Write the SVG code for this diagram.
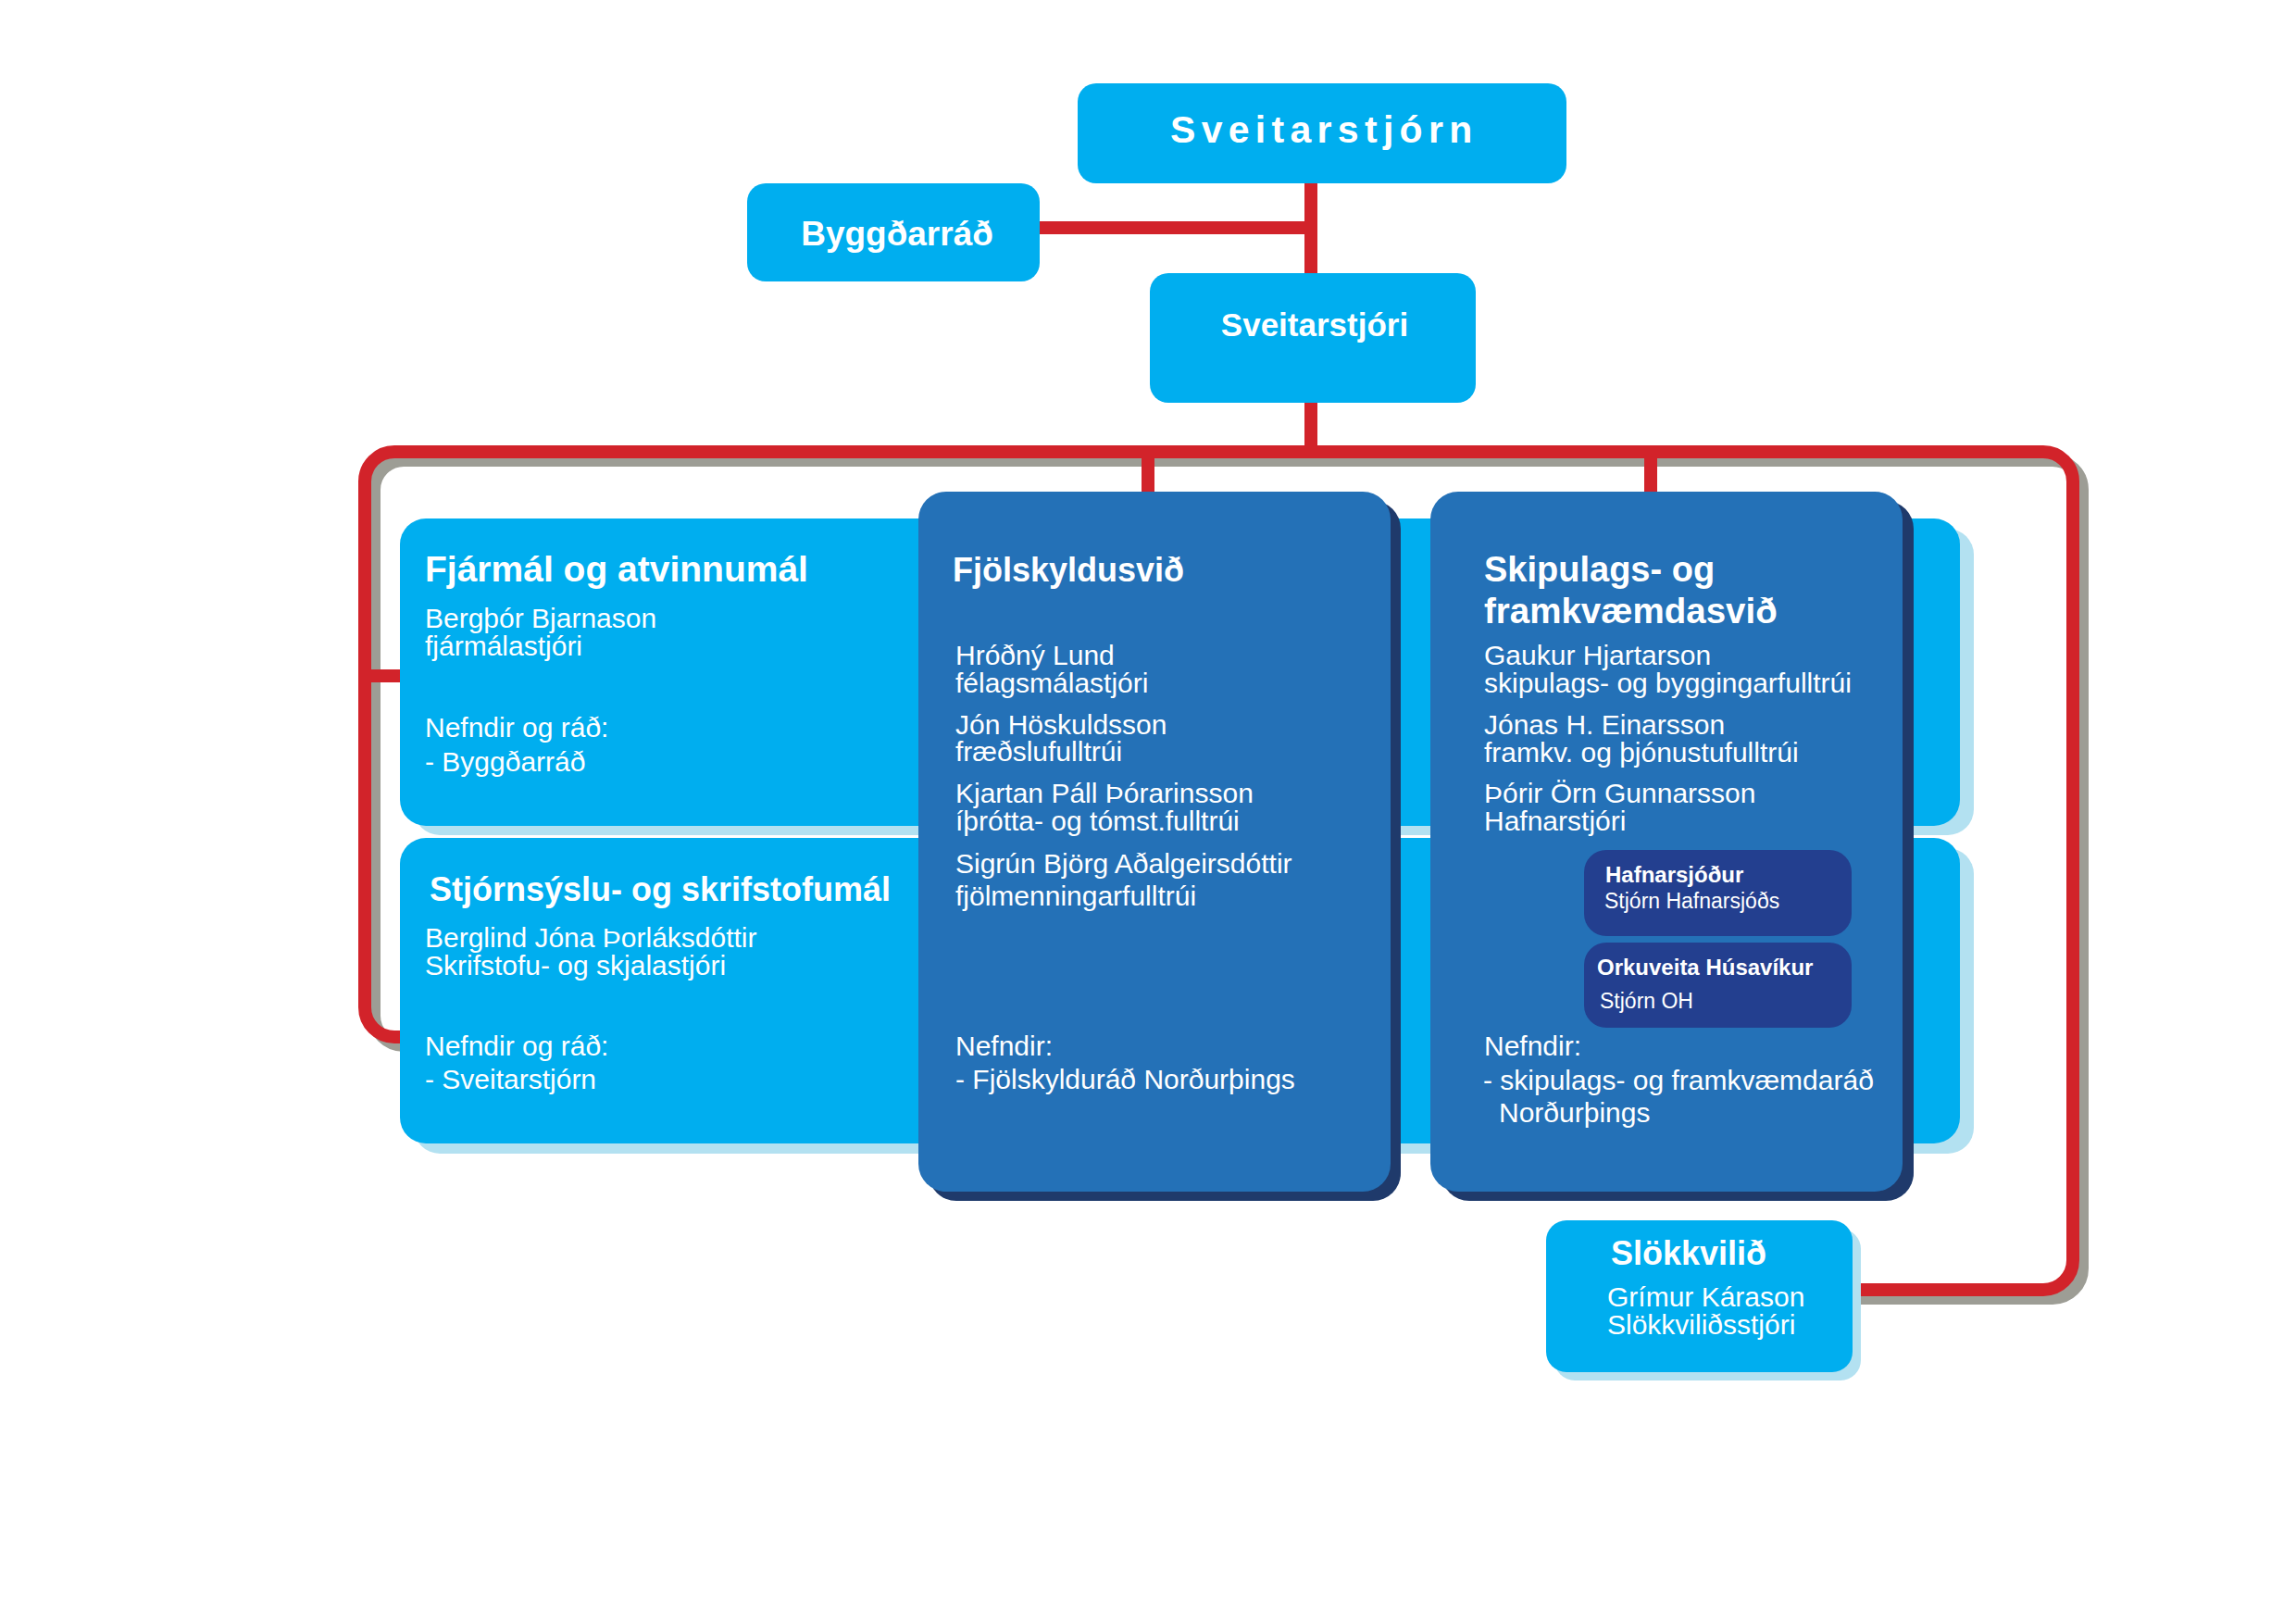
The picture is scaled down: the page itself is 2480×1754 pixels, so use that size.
<svg xmlns="http://www.w3.org/2000/svg" width="2480" height="1754" viewBox="0 0 2480 1754">
<style>
.red{fill:none;stroke:#D2232A;stroke-width:14}
.gray{fill:none;stroke:#9D9D95;stroke-width:14}
.lb{fill:#00AEEF}
.lbs{fill:#B3E1F1}
.db{fill:#2471B7}
.dbs{fill:#1F3A6B}
.sb{fill:#233F8F}
text{font-family:"Liberation Sans",Arial,sans-serif;fill:#fff}
.t{font-weight:bold;font-size:37px}
.r{font-size:30px}
.sbt{font-weight:bold;font-size:24px}
.sbr{font-size:23px}
</style>
<rect width="2480" height="1754" fill="#fff"/>
<g id="connectors">
<path class="gray" transform="translate(10,9)" d="M440 1120 H426 A32 32 0 0 1 394 1088 V520 A32 32 0 0 1 426 488 H2207 A32 32 0 0 1 2239 520 V1361 A32 32 0 0 1 2207 1393 H1995"/>
<path class="red" d="M440 1120 H426 A32 32 0 0 1 394 1088 V520 A32 32 0 0 1 426 488 H2207 A32 32 0 0 1 2239 520 V1361 A32 32 0 0 1 2207 1393 H1995"/>
<path class="red" d="M1416 196 V297 M1120 246 H1423 M1416 433 V488 M1240 488 V535 M1783 488 V535 M394 730 H440"/>
</g>
<g id="sveitarstjorn">
<rect class="lb" x="1164" y="90" width="528" height="108" rx="20"/>
<text x="1264" y="154" font-weight="bold" font-size="41" letter-spacing="6.3">Sveitarstjórn</text>
</g>
<g id="byggdarrad">
<rect class="lb" x="807" y="198" width="316" height="106" rx="20"/>
<text x="969" y="265" font-weight="bold" font-size="37" text-anchor="middle">Byggðarráð</text>
</g>
<g id="sveitarstjori">
<rect class="lb" x="1242" y="295" width="352" height="140" rx="20"/>
<text x="1420" y="363" font-weight="bold" font-size="35" text-anchor="middle">Sveitarstjóri</text>
</g>
<g id="fjarmal">
<rect class="lbs" x="447" y="571" width="1685" height="331" rx="28"/>
<rect class="lb" x="432" y="560" width="1685" height="332" rx="28"/>
<text class="t" x="459" y="628" style="font-size:39px">Fjármál og atvinnumál</text>
<text class="r" x="459" y="678">Bergþór Bjarnason</text>
<text class="r" x="459" y="708">fjármálastjóri</text>
<text class="r" x="459" y="796">Nefndir og ráð:</text>
<text class="r" x="459" y="833">- Byggðarráð</text>
</g>
<g id="stjornsysla">
<rect class="lbs" x="447" y="916" width="1685" height="330" rx="28"/>
<rect class="lb" x="432" y="905" width="1685" height="330" rx="28"/>
<text class="t" x="464" y="973" style="font-size:36px">Stjórnsýslu- og skrifstofumál</text>
<text class="r" x="459" y="1023">Berglind Jóna Þorláksdóttir</text>
<text class="r" x="459" y="1053">Skrifstofu- og skjalastjóri</text>
<text class="r" x="459" y="1140">Nefndir og ráð:</text>
<text class="r" x="459" y="1176">- Sveitarstjórn</text>
</g>
<g id="fjolskyldusvid">
<rect class="dbs" x="1003" y="541" width="510" height="756" rx="30"/>
<rect class="db" x="992" y="531" width="510" height="756" rx="30"/>
<text class="t" x="1029" y="628" style="font-size:36px">Fjölskyldusvið</text>
<text class="r" x="1032" y="718">Hróðný Lund</text>
<text class="r" x="1032" y="748">félagsmálastjóri</text>
<text class="r" x="1032" y="793">Jón Höskuldsson</text>
<text class="r" x="1032" y="822">fræðslufulltrúi</text>
<text class="r" x="1032" y="867">Kjartan Páll Þórarinsson</text>
<text class="r" x="1032" y="897">íþrótta- og tómst.fulltrúi</text>
<text class="r" x="1032" y="943">Sigrún Björg Aðalgeirsdóttir</text>
<text class="r" x="1032" y="978">fjölmenningarfulltrúi</text>
<text class="r" x="1032" y="1140">Nefndir:</text>
<text class="r" x="1032" y="1176">- Fjölskylduráð Norðurþings</text>
</g>
<g id="skipulagssvid">
<rect class="dbs" x="1557" y="541" width="510" height="756" rx="30"/>
<rect class="db" x="1545" y="531" width="510" height="756" rx="30"/>
<text class="t" x="1603" y="628" style="font-size:38px">Skipulags- og</text>
<text class="t" x="1603" y="673" style="font-size:38.5px">framkvæmdasvið</text>
<text class="r" x="1603" y="718">Gaukur Hjartarson</text>
<text class="r" x="1603" y="748">skipulags- og byggingarfulltrúi</text>
<text class="r" x="1603" y="793">Jónas H. Einarsson</text>
<text class="r" x="1603" y="823">framkv. og þjónustufulltrúi</text>
<text class="r" x="1603" y="867">Þórir Örn Gunnarsson</text>
<text class="r" x="1603" y="897">Hafnarstjóri</text>
<text class="r" x="1603" y="1140">Nefndir:</text>
<text class="r" x="1602" y="1177">- skipulags- og framkvæmdaráð</text>
<text class="r" x="1619" y="1212">Norðurþings</text>
</g>
<g id="hafnarsjodur">
<rect class="sb" x="1711" y="918" width="289" height="93" rx="24"/>
<text class="sbt" x="1734" y="953">Hafnarsjóður</text>
<text class="sbr" x="1733" y="981">Stjórn Hafnarsjóðs</text>
</g>
<g id="orkuveita">
<rect class="sb" x="1711" y="1018" width="289" height="92" rx="24"/>
<text class="sbt" x="1725" y="1053">Orkuveita Húsavíkur</text>
<text class="sbr" x="1728" y="1089">Stjórn OH</text>
</g>
<g id="slokkvilid">
<rect class="lbs" x="1679" y="1327" width="331" height="164" rx="22"/>
<rect class="lb" x="1670" y="1318" width="331" height="164" rx="22"/>
<text class="t" x="1740" y="1366" style="font-size:36px">Slökkvilið</text>
<text class="r" x="1736" y="1411">Grímur Kárason</text>
<text class="r" x="1736" y="1441">Slökkviliðsstjóri</text>
</g>
</svg>
